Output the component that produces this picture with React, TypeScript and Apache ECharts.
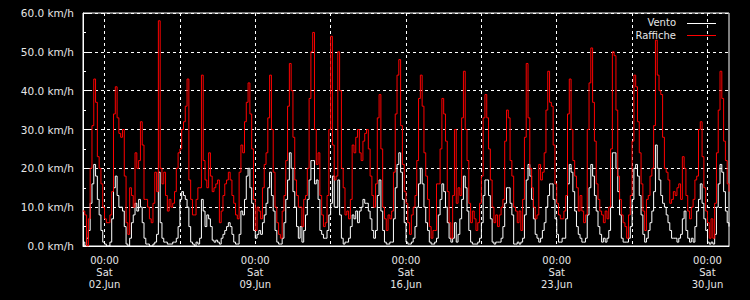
import React, { useEffect, useRef } from 'react';
import * as echarts from 'echarts';

// Time axis: hours counted from 01.Jun 00:00, one value every 2 hours
const STEP_HOURS = 2;
const X_MIN = 0;
const X_MAX = 720;

// Raffiche (gusts), km/h, 12 values per day (00,02,...,22h), 01.Jun .. 30.Jun, then 01.Jul 00:00
const raffiche: number[] = [
  9, 8, 0, 7, 20, 31, 43, 37, 23, 20, 16, 10,
  7, 6, 6, 8, 14, 34, 41, 33, 29, 28, 30, 18,
  6, 3, 15, 13, 10, 24, 20, 22, 32, 26, 12, 12,
  10, 7, 6, 11, 19, 14, 58, 20, 16, 19, 13, 9,
  12, 10, 11, 14, 20, 24, 25, 30, 32, 36, 43, 17,
  12, 8, 8, 12, 15, 15, 44, 22, 17, 15, 24, 18,
  14, 15, 16, 17, 6, 9, 13, 16, 17, 19, 17, 13,
  11, 8, 7, 19, 26, 24, 32, 37, 42, 34, 25, 12,
  4, 10, 9, 7, 15, 21, 24, 33, 44, 30, 19, 10,
  6, 3, 2, 9, 13, 22, 36, 47, 40, 28, 17, 13,
  10, 10, 5, 12, 13, 20, 38, 50, 55, 30, 21, 24,
  13, 8, 5, 6, 13, 30, 54, 26, 17, 18, 50, 40,
  20, 15, 8, 9, 7, 12, 26, 24, 28, 30, 24, 22,
  27, 29, 30, 25, 18, 13, 10, 16, 33, 39, 25, 10,
  7, 4, 8, 7, 9, 19, 34, 44, 48, 31, 21, 14,
  11, 6, 3, 8, 10, 13, 22, 38, 44, 36, 24, 18,
  12, 5, 2, 4, 4, 16, 16, 25, 38, 34, 27, 14,
  6, 2, 13, 30, 11, 15, 13, 33, 45, 30, 22, 11,
  6, 9, 7, 4, 6, 11, 18, 33, 39, 33, 25, 17,
  10, 6, 8, 5, 8, 10, 12, 27, 35, 33, 22, 18,
  10, 9, 6, 9, 4, 12, 28, 47, 33, 20, 15, 10,
  7, 8, 21, 17, 19, 24, 35, 45, 37, 36, 26, 16,
  11, 8, 7, 7, 9, 13, 34, 43, 30, 22, 18, 15,
  9, 13, 9, 6, 8, 30, 42, 51, 37, 27, 16, 12,
  9, 8, 6, 9, 7, 10, 25, 50, 49, 35, 18, 12,
  8, 6, 5, 2, 8, 13, 27, 44, 41, 32, 24, 16,
  9, 4, 12, 13, 18, 20, 31, 53, 44, 40, 39, 28,
  20, 19, 17, 11, 12, 14, 13, 15, 16, 12, 23, 20,
  13, 9, 7, 10, 12, 17, 18, 30, 32, 23, 15, 9,
  6, 2, 7, 2, 11, 24, 35, 45, 38, 27, 22, 16,
  14,
];

// Vento (mean wind), km/h, same time steps
const vento: number[] = [
  1, 0, 2, 4, 11, 16, 21, 18, 12, 8, 4, 1,
  0.5, 0, 0, 1, 7, 15, 18, 13, 10, 10, 9, 5,
  0.5, 0, 2, 6, 8, 11, 9, 12, 10, 6, 2, 0.5,
  0.5, 0, 0, 0.5, 1, 3, 19, 6, 2, 1, 1, 0.5,
  0.5, 0.5, 1, 1, 2, 5, 12, 14, 13, 12, 10, 5,
  1, 0.5, 0, 1, 0.5, 2, 12, 9, 5, 8, 7, 5,
  1.5, 1, 1.5, 1, 0.5, 2, 3, 4, 5, 6, 5, 3,
  1, 0.5, 0.5, 3, 9, 8, 12, 18, 20, 15, 11, 4,
  2, 3, 4, 3, 6, 8, 11, 15, 19, 13, 9, 4,
  1, 0.5, 0.5, 2, 6, 12, 17, 24, 20, 14, 10, 5,
  2, 5, 1, 4, 8, 12, 17, 22, 22, 16, 17, 12,
  4, 3, 2, 2, 4, 8, 11, 18, 10, 10, 17, 8,
  2, 0.5, 1, 1, 2, 5, 8, 7, 9, 6, 9, 10,
  12, 11, 11, 9, 7, 4, 2, 4, 13, 17, 9, 4,
  1, 0.5, 0.5, 1, 1, 7, 15, 21, 24, 19, 12, 6,
  1, 0.5, 0.5, 1, 2, 5, 10, 16, 20, 16, 10, 6,
  4, 1, 0.5, 0.5, 1, 2, 8, 12, 16, 14, 10, 6,
  2, 1, 2, 6, 1, 3, 7, 12, 18, 15, 9, 4,
  1, 0.5, 0.5, 0.5, 1, 2, 6, 13, 17, 17, 13, 7,
  1, 0.5, 1, 1, 1, 2, 5, 11, 15, 15, 11, 8,
  0.5, 0.5, 1, 0.5, 1, 2, 8, 17, 21, 18, 12, 7,
  3, 2, 1, 2, 4, 6, 10, 13, 16, 16, 12, 7,
  3, 1, 1, 2, 2, 7, 16, 21, 19, 14, 9, 5,
  3, 2, 1, 1, 2, 8, 15, 21, 18, 13, 9, 5,
  3, 1, 2, 1, 2, 4, 10, 24, 24, 20, 14, 8,
  2, 1, 1, 1, 2, 5, 12, 20, 21, 18, 13, 8,
  3, 1, 2, 4, 6, 9, 14, 26, 20, 17, 13, 11,
  10, 8, 6, 4, 2, 2, 2, 1, 2, 3, 7, 9,
  4, 2, 1, 2, 1, 5, 9, 12, 16, 11, 7, 4,
  1, 0.5, 1, 0.5, 3, 10, 16, 21, 19, 14, 9, 6,
  5,
];

// Grid lines every 3.5 days starting at 02.Jun 00:00 (hours from 01.Jun 00:00)
const xGridHours = [24, 108, 192, 276, 360, 444, 528, 612, 696];
// Labelled ticks (Saturdays 00:00)
const xLabelHours = [24, 192, 360, 528, 696];
const xLabelTimes = ['00:00', '00:00', '00:00', '00:00', '00:00'];
const xLabelDays = ['Sat', 'Sat', 'Sat', 'Sat', 'Sat'];
const xLabelDates = ['02.Jun', '09.Jun', '16.Jun', '23.Jun', '30.Jun'];

const seriesNames = ['Vento', 'Raffiche'];
const seriesColors = ['#ffffff', '#ff0000'];

const FONT = 'DejaVu Sans';
const TEXT_COLOR = '#e6e6e6';

export default function App() {
  const ref = useRef<HTMLDivElement>(null);

  useEffect(() => {
    document.body.style.margin = '0';
    document.body.style.background = '#000';
    const chart = echarts.init(ref.current!, null, { renderer: 'svg' });
    const toPoints = (arr: number[]) => arr.map((v, i) => [i * STEP_HOURS, v]);

    const legendEls: any[] = [];
    seriesNames.forEach((name, i) => {
      const y = 22.5 + i * 12.7;
      legendEls.push({
        type: 'text',
        x: 676,
        y: y,
        style: {
          text: name,
          fill: TEXT_COLOR,
          font: `10px "${FONT}"`,
          align: 'right',
          verticalAlign: 'middle',
        },
        z: 10,
      });
      legendEls.push({
        type: 'line',
        shape: { x1: 687, y1: Math.round(y) + 0.5, x2: 716, y2: Math.round(y) + 0.5 },
        style: { stroke: seriesColors[i], lineWidth: 1 },
        z: 10,
      });
    });

    chart.setOption({
      animation: false,
      backgroundColor: '#000',
      grid: {
        left: 83,
        top: 13,
        width: 646,
        height: 233,
        show: true,
        borderColor: '#fff',
        borderWidth: 1,
        backgroundColor: 'transparent',
      },
      graphic: legendEls,
      xAxis: {
        type: 'value',
        min: X_MIN,
        max: X_MAX,
        axisLine: { show: true, lineStyle: { color: '#fff', width: 1 } },
        axisTick: { show: false, customValues: xGridHours },
        axisLabel: {
          customValues: xLabelHours,
          formatter: (v: number) => {
            const i = xLabelHours.indexOf(Math.round(v));
            return i >= 0 ? `${xLabelTimes[i]}\n${xLabelDays[i]}\n${xLabelDates[i]}` : '';
          },
          color: TEXT_COLOR,
          fontFamily: FONT,
          fontSize: 10,
          lineHeight: 12,
          margin: 8,
        },
        splitLine: { show: true, lineStyle: { color: '#fff', width: 1, type: [3, 3] } },
      },
      yAxis: {
        type: 'value',
        min: 0,
        max: 60,
        interval: 10,
        axisLine: { show: true, lineStyle: { color: '#fff', width: 1 } },
        axisTick: { show: true, inside: true, length: 6, lineStyle: { color: '#fff' } },
        minorTick: { show: true, splitNumber: 2, length: 3, lineStyle: { color: '#fff' } },
        axisLabel: {
          formatter: (v: number) => `${v.toFixed(1)} km/h`,
          color: TEXT_COLOR,
          fontFamily: FONT,
          fontSize: 10.5,
          margin: 9,
        },
        splitLine: { show: true, lineStyle: { color: '#fff', width: 1, type: [3, 3] } },
      },
      series: [
        {
          name: seriesNames[0],
          type: 'line',
          step: 'end',
          data: toPoints(vento),
          symbol: 'none',
          showSymbol: false,
          lineStyle: { color: seriesColors[0], width: 1 },
          itemStyle: { color: seriesColors[0] },
        },
        {
          name: seriesNames[1],
          type: 'line',
          step: 'end',
          data: toPoints(raffiche),
          symbol: 'none',
          showSymbol: false,
          lineStyle: { color: seriesColors[1], width: 1 },
          itemStyle: { color: seriesColors[1] },
        },
      ],
    });
    return () => chart.dispose();
  }, []);

  return <div ref={ref} style={{ width: 750, height: 300, background: '#000' }} />;
}
